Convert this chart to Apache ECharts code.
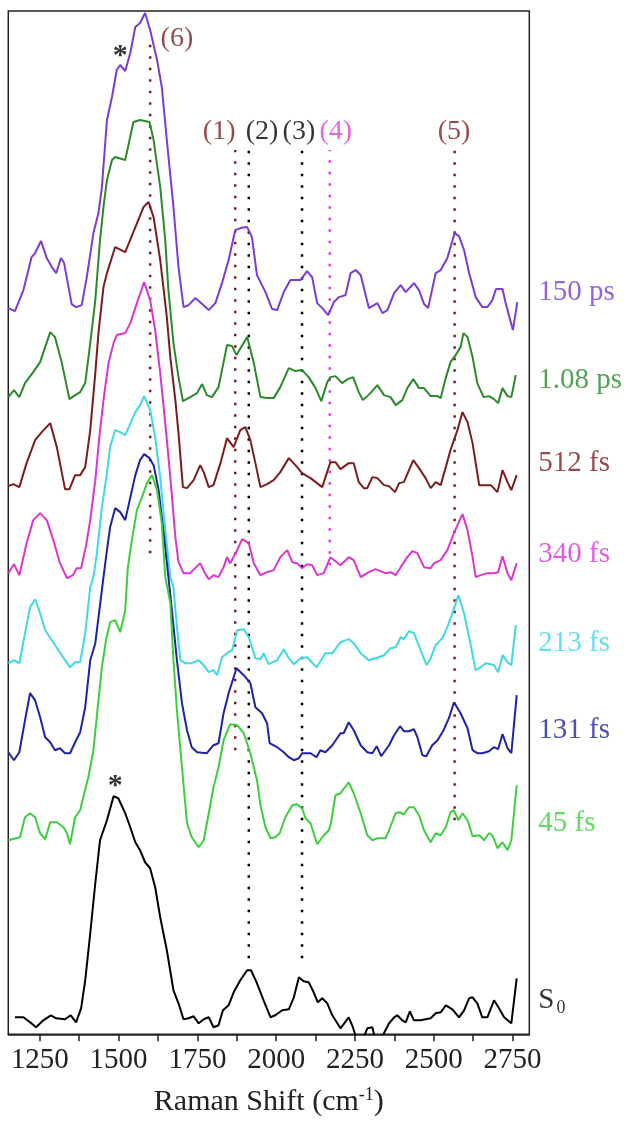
<!DOCTYPE html>
<html><head><meta charset="utf-8">
<script src="https://cdn.jsdelivr.net/npm/echarts@6/dist/echarts.min.js"></script>
<style>html,body{margin:0;padding:0;background:#fff;}#c{width:627px;height:1133px;}</style>
</head><body><div id="c"></div>
<script>
// Raman shift (cm-1) vs stacked intensity (arbitrary units, offset per trace)
const s150ps = [[1150,726],[1171,723],[1198,744],[1224,777],[1235,781],[1254,793],[1272,776],[1288,767],[1302,761],[1317,776],[1327,771],[1341,747],[1351,730],[1365,727],[1383,729],[1399,757],[1420,801],[1436,821],[1447,847],[1463,914],[1479,937],[1494,964],[1505,969],[1521,963],[1537,981],[1553,1007],[1568,1011],[1584,1021],[1600,1004],[1622,974],[1637,947],[1653,894],[1674,827],[1690,767],[1706,727],[1722,729],[1743,736],[1765,730],[1786,724],[1807,731],[1828,751],[1849,774],[1870,804],[1886,806],[1908,807],[1923,797],[1939,759],[1966,742],[1987,725],[2003,724],[2024,742],[2045,754],[2077,754],[2098,763],[2114,757],[2130,731],[2146,726],[2165,719],[2183,732],[2199,737],[2220,739],[2236,761],[2252,764],[2268,759],[2294,726],[2321,731],[2337,721],[2353,724],[2374,741],[2395,749],[2411,742],[2437,751],[2453,744],[2469,730],[2482,726],[2506,761],[2522,764],[2543,776],[2566,801],[2580,798],[2596,784],[2612,761],[2633,737],[2654,727],[2670,727],[2686,734],[2697,745],[2718,745],[2728,731],[2744,712],[2751,704],[2765,732]];
const s108ps = [[1150,637],[1168,644],[1185,637],[1203,651],[1229,662],[1251,672],[1283,702],[1298,697],[1320,671],[1344,635],[1362,639],[1378,642],[1394,651],[1410,691],[1426,734],[1441,794],[1452,827],[1463,854],[1479,874],[1489,877],[1521,874],[1547,912],[1568,914],[1598,912],[1611,894],[1632,847],[1648,794],[1658,744],[1674,691],[1690,657],[1704,633],[1727,637],[1749,641],[1765,650],[1780,639],[1796,637],[1817,647],[1844,689],[1860,688],[1874,679],[1908,697],[1929,671],[1950,637],[1971,636],[1992,636],[2013,647],[2040,666],[2061,663],[2082,664],[2103,657],[2125,646],[2143,633],[2162,652],[2172,657],[2188,658],[2209,651],[2227,655],[2244,657],[2262,642],[2275,634],[2299,641],[2321,649],[2342,639],[2363,637],[2379,629],[2400,634],[2416,646],[2435,655],[2453,646],[2469,646],[2474,647],[2490,638],[2512,638],[2522,636],[2538,656],[2553,672],[2569,679],[2585,687],[2594,701],[2607,697],[2623,677],[2638,651],[2658,637],[2675,638],[2691,635],[2704,631],[2718,646],[2734,638],[2746,637],[2760,659]];
const s512fs = [[1150,548],[1166,550],[1185,547],[1208,571],[1235,594],[1256,602],[1283,611],[1304,587],[1330,545],[1344,545],[1362,559],[1378,559],[1394,567],[1410,604],[1426,661],[1436,701],[1452,747],[1463,761],[1489,787],[1521,782],[1579,827],[1595,832],[1611,817],[1632,774],[1653,717],[1664,677],[1680,634],[1690,601],[1704,547],[1717,546],[1738,554],[1759,569],[1770,562],[1786,547],[1801,549],[1823,571],[1844,596],[1865,587],[1886,604],[1902,607],[1918,594],[1934,571],[1950,547],[1971,550],[1992,554],[2013,562],[2040,576],[2061,569],[2082,561],[2109,556],[2146,547],[2172,572],[2188,572],[2204,565],[2230,571],[2246,571],[2262,552],[2278,546],[2289,546],[2305,557],[2321,556],[2342,549],[2358,548],[2377,542],[2390,551],[2405,552],[2435,574],[2453,566],[2474,556],[2490,546],[2506,552],[2522,549],[2538,567],[2553,584],[2575,604],[2591,622],[2607,612],[2623,591],[2644,549],[2660,549],[2681,549],[2702,542],[2718,564],[2734,552],[2746,544],[2763,559]];
const s340fs = [[1150,461],[1168,470],[1185,459],[1208,491],[1229,514],[1251,521],[1272,514],[1293,494],[1314,471],[1336,456],[1355,459],[1367,466],[1381,466],[1397,489],[1410,514],[1426,554],[1441,604],[1454,639],[1468,671],[1484,691],[1494,699],[1521,701],[1537,711],[1558,731],[1581,752],[1600,734],[1616,704],[1632,661],[1648,611],[1664,557],[1680,497],[1690,472],[1706,461],[1727,461],[1743,466],[1759,471],[1772,462],[1786,455],[1801,459],[1817,457],[1833,467],[1844,477],[1854,471],[1876,484],[1892,495],[1913,491],[1929,471],[1950,459],[1971,462],[1992,464],[2013,477],[2035,484],[2051,472],[2066,471],[2082,466],[2098,470],[2114,469],[2130,459],[2151,461],[2172,477],[2204,469],[2230,477],[2246,474],[2268,457],[2294,462],[2315,465],[2347,461],[2363,462],[2379,459],[2395,467],[2416,477],[2432,483],[2448,481],[2469,467],[2490,466],[2501,471],[2522,474],[2543,484],[2564,501],[2591,520],[2607,504],[2623,477],[2633,457],[2649,459],[2670,461],[2691,461],[2704,462],[2718,478],[2734,461],[2746,454],[2763,471]];
const s213fs = [[1150,371],[1168,374],[1185,371],[1203,401],[1219,427],[1235,435],[1251,421],[1267,404],[1288,394],[1309,384],[1330,374],[1346,367],[1362,372],[1378,372],[1394,401],[1410,447],[1420,457],[1431,481],[1447,527],[1463,561],[1473,587],[1489,604],[1505,602],[1521,599],[1553,622],[1568,629],[1581,638],[1600,624],[1616,597],[1632,557],[1648,504],[1664,457],[1674,447],[1685,407],[1696,374],[1711,371],[1732,371],[1754,374],[1770,369],[1786,362],[1801,364],[1812,359],[1828,377],[1844,381],[1860,384],[1876,404],[1897,405],[1913,397],[1934,376],[1950,375],[1960,381],[1976,370],[2003,374],[2024,385],[2040,376],[2056,370],[2077,376],[2098,377],[2128,367],[2156,381],[2178,381],[2204,392],[2230,395],[2246,391],[2268,381],[2294,374],[2315,376],[2342,379],[2363,386],[2379,387],[2395,397],[2405,395],[2421,403],[2437,401],[2458,384],[2477,369],[2490,376],[2506,389],[2527,396],[2543,407],[2559,421],[2578,439],[2596,421],[2612,397],[2633,364],[2649,367],[2665,371],[2681,370],[2691,369],[2704,362],[2718,379],[2734,372],[2746,369],[2760,409]];
const s131fs = [[1150,282],[1168,274],[1185,282],[1203,314],[1219,341],[1235,334],[1251,317],[1267,297],[1283,292],[1298,284],[1314,286],[1330,281],[1346,281],[1362,292],[1378,302],[1394,327],[1410,374],[1426,391],[1452,457],[1463,484],[1473,507],[1489,526],[1505,522],[1521,514],[1553,559],[1568,574],[1581,580],[1598,576],[1611,569],[1627,544],[1643,501],[1658,457],[1669,424],[1685,374],[1701,331],[1717,304],[1732,287],[1749,282],[1780,281],[1801,289],[1817,291],[1833,321],[1849,341],[1874,366],[1897,359],[1918,351],[1934,327],[1955,321],[1971,311],[1979,291],[2003,287],[2024,282],[2040,277],[2056,274],[2072,276],[2082,281],[2109,281],[2128,277],[2140,284],[2156,282],[2178,289],[2204,301],[2214,301],[2230,312],[2246,304],[2268,289],[2289,282],[2305,281],[2319,288],[2333,278],[2358,289],[2374,299],[2393,308],[2405,303],[2421,303],[2437,305],[2448,297],[2464,279],[2476,278],[2495,289],[2512,294],[2531,304],[2548,316],[2564,332],[2585,321],[2607,306],[2623,284],[2638,281],[2654,281],[2675,283],[2691,287],[2704,285],[2718,300],[2734,286],[2746,281],[2763,339]];
const s45fs = [[1150,194],[1187,197],[1203,217],[1219,221],[1235,217],[1251,201],[1267,195],[1283,212],[1304,212],[1325,207],[1336,201],[1346,190],[1362,217],[1378,224],[1383,231],[1404,257],[1420,284],[1436,334],[1447,367],[1460,394],[1473,412],[1489,414],[1505,402],[1521,424],[1529,466],[1542,494],[1558,524],[1574,537],[1590,551],[1606,559],[1622,544],[1637,511],[1648,457],[1664,431],[1674,374],[1685,324],[1701,267],[1717,211],[1732,197],[1754,187],[1770,194],[1786,221],[1801,247],[1817,267],[1833,294],[1854,310],[1876,309],[1897,301],[1918,281],[1939,254],[1950,229],[1966,207],[1982,196],[1997,197],[2011,201],[2029,217],[2051,229],[2066,230],[2082,226],[2093,216],[2109,211],[2130,190],[2151,199],[2167,204],[2174,212],[2188,239],[2204,241],[2230,252],[2246,241],[2268,221],[2289,199],[2305,194],[2321,196],[2347,196],[2358,204],[2379,221],[2390,222],[2405,220],[2421,227],[2437,227],[2453,219],[2469,204],[2490,192],[2506,201],[2522,199],[2538,207],[2553,222],[2564,224],[2578,214],[2591,221],[2607,214],[2623,198],[2644,199],[2660,194],[2675,201],[2686,199],[2702,186],[2718,192],[2734,184],[2746,194],[2763,249]];
const sS0 = [[1171,17],[1198,17],[1219,12],[1238,7],[1261,14],[1285,19],[1302,16],[1330,15],[1348,19],[1365,12],[1381,26],[1394,54],[1410,101],[1426,151],[1441,194],[1463,214],[1484,238],[1499,236],[1521,221],[1537,207],[1553,192],[1568,184],[1584,172],[1600,166],[1616,147],[1632,117],[1653,84],[1674,44],[1690,31],[1706,15],[1722,16],[1738,18],[1754,11],[1770,15],[1786,17],[1801,7],[1817,9],[1831,24],[1849,29],[1865,42],[1886,54],[1908,64],[1920,64],[1939,51],[1960,34],[1982,17],[1997,19],[2019,24],[2040,25],[2056,37],[2072,57],[2087,53],[2103,52],[2119,42],[2132,32],[2146,36],[2162,31],[2178,19],[2204,6],[2230,17],[2241,9],[2257,-6],[2268,-11],[2289,6],[2305,7],[2315,-6],[2325,-11],[2337,-2],[2358,11],[2374,17],[2384,19],[2400,14],[2411,12],[2424,23],[2437,14],[2458,14],[2490,16],[2506,21],[2522,22],[2538,29],[2559,25],[2580,17],[2596,24],[2612,36],[2623,37],[2638,31],[2654,17],[2670,17],[2691,34],[2707,26],[2723,17],[2746,11],[2763,56]];

const traces = [s150ps, s108ps, s512fs, s340fs, s213fs, s131fs, s45fs, sS0];
const traceNames = ['150 ps', '1.08 ps', '512 fs', '340 fs', '213 fs', '131 fs', '45 fs', 'S0'];
const traceColors = ['#7B3BD6', '#2A8A2A', '#7D1C1C', '#DA35D2', '#3ED9E3', '#2020A8', '#3CCF3C', '#000000'];
const traceLabelHeights = [742, 654, 571, 480, 391, 304, 211, 34];

const tickValues = [1250, 1375, 1500, 1625, 1750, 1875, 2000, 2125, 2250, 2375, 2500, 2625, 2750];
const tickLabels = [1250, 1500, 1750, 2000, 2250, 2500, 2750];

const markerNames = ['(1)', '(2)', '(3)', '(4)', '(5)', '(6)'];
const markerShifts = [1870, 1913, 2082, 2170, 2566, 1600];
const markerTops = [884, 884, 884, 884, 884, 992];
const markerBottoms = [284, 76, 76, 469, 214, 481];
const markerLabelShifts = [1819, 1955, 2072, 2189, 2564, 1685];
const markerLabelHeights = [902, 902, 902, 902, 902, 995];
const markerColors = ['#7D1C1C', '#000000', '#000000', '#E03ADB', '#7D1C1C', '#7D1C1C'];

const starPoints = [[1505, 978], [1489, 248]];

const FONT = "'Liberation Serif', 'Times New Roman', serif";
const chart = echarts.init(document.getElementById('c'), null, {renderer: 'canvas'});

const series = [];
markerShifts.forEach((x, i) => {
  series.push({
    type: 'line', silent: true, showSymbol: false, z: 1,
    data: [[x, markerBottoms[i]], [x, markerTops[i]]],
    lineStyle: {color: markerColors[i], width: 2.5, type: [2.5, 9]}
  });
});
traces.forEach((d, i) => {
  series.push({
    type: 'line', name: traceNames[i], data: d, showSymbol: false, z: 3,
    lineStyle: {color: traceColors[i], width: 2}
  });
});
series.push({
  type: 'scatter', symbolSize: 0, clip: false, silent: true, z: 5,
  data: traceNames.map((n, i) => ({value: [2803, traceLabelHeights[i]], name: n, label: {color: traceColors[i]}})),
  label: {
    show: true, position: 'right', distance: 9, fontSize: 29, fontFamily: FONT,
    formatter: p => p.name === 'S0' ? 'S{sub|0}' : p.name,
    rich: {sub: {fontSize: 18, fontFamily: FONT, color: '#000', padding: [16, 0, 0, 2]}}
  }
});
series.push({
  type: 'scatter', symbolSize: 0, clip: false, silent: true, z: 5,
  data: markerNames.map((n, i) => ({value: [markerLabelShifts[i], markerLabelHeights[i]], name: n, label: {color: markerColors[i]}})),
  label: {show: true, position: 'inside', fontSize: 28, fontFamily: FONT, formatter: '{b}'}
});
series.push({
  type: 'scatter', symbolSize: 0, clip: false, silent: true, z: 5,
  data: starPoints,
  label: {show: true, position: 'inside', fontSize: 30, fontWeight: 'bold', fontFamily: FONT, color: '#000', formatter: '*'}
});

chart.setOption({
  animation: false,
  backgroundColor: '#ffffff',
  grid: {left: 8.3, right: 97.7, top: 11, bottom: 98.7, show: true, borderColor: '#222', borderWidth: 1.5, backgroundColor: 'transparent'},
  xAxis: {
    type: 'value', min: 1150, max: 2803,
    axisLine: {show: true, lineStyle: {color: '#222', width: 1.5}},
    axisTick: {show: true, customValues: tickValues, length: 7, inside: false, lineStyle: {color: '#222', width: 1.5}},
    axisLabel: {customValues: tickLabels, fontSize: 29, fontFamily: FONT, color: '#222', margin: 12, formatter: v => String(v)},
    splitLine: {show: false},
    name: 'Raman Shift (cm{sup|-1})', nameLocation: 'middle', nameGap: 52,
    nameTextStyle: {fontSize: 30, fontFamily: FONT, color: '#222',
      rich: {sup: {fontSize: 18, fontFamily: FONT, color: '#222', padding: [0, 0, 14, 0]}}}
  },
  yAxis: {type: 'value', min: 0, max: 1023, show: false},
  series: series
});
</script></body></html>
